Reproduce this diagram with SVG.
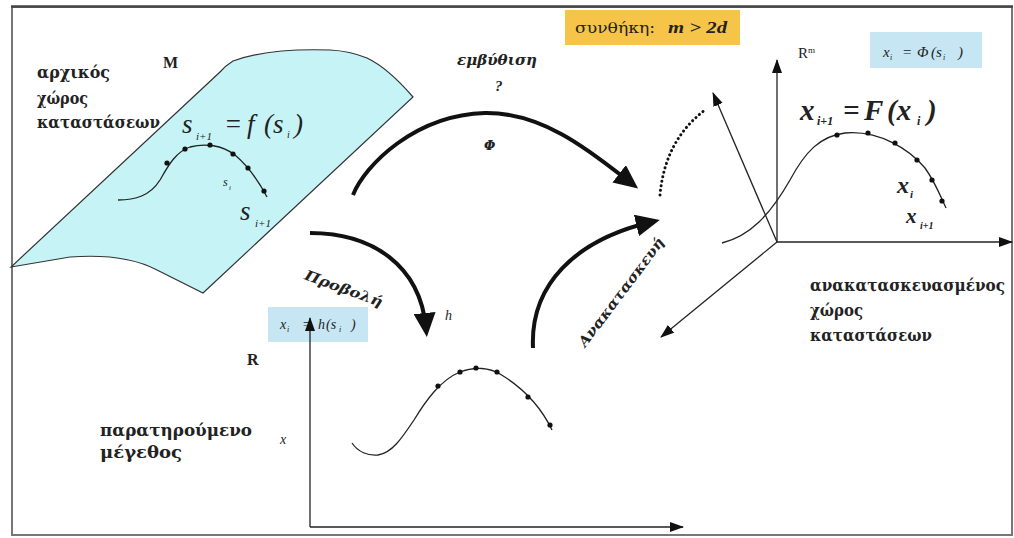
<svg xmlns="http://www.w3.org/2000/svg" width="1014" height="538" viewBox="0 0 1014 538">
<style>
.lbl{font-family:"DejaVu Serif","Liberation Serif",serif;font-weight:bold;font-size:16px;fill:#222}
.bi{font-family:"Liberation Serif","DejaVu Serif",serif;font-weight:bold;font-style:italic;fill:#222}
.gbi{font-family:"DejaVu Serif","Liberation Serif",serif;font-weight:bold;font-style:italic;fill:#222}
.it{font-family:"Liberation Serif","DejaVu Serif",serif;font-style:italic;fill:#222}
.rg{font-family:"Liberation Serif","DejaVu Serif",serif;fill:#222}
.big{stroke:#111;stroke-width:4;fill:none}
.ax{stroke:#222;stroke-width:1.3;fill:none}
.crv{stroke:#222;stroke-width:1.3;fill:none}
.dot{fill:#111}
</style>
<defs>
<marker id="bigHead" markerUnits="userSpaceOnUse" viewBox="0 0 24 22" markerWidth="24" markerHeight="22" refX="15" refY="11" orient="auto">
<path d="M0,0 L24,11 L0,22 Z" fill="#111"/>
</marker>
<marker id="smHead" markerUnits="userSpaceOnUse" viewBox="0 0 14 10" markerWidth="14" markerHeight="10" refX="13" refY="5" orient="auto">
<path d="M0,0 L14,5 L0,10 Z" fill="#111"/>
</marker>
</defs>
<rect x="0" y="0" width="1014" height="538" fill="#fff"/>
<rect x="12" y="7" width="1000" height="528" fill="none" stroke="#777" stroke-width="2"/>
<line x1="11" y1="6.5" x2="1013" y2="6.5" stroke="#444" stroke-width="2.5"/>

<g id="original-space">
<path d="M11,267 L70,257 Q125,253 157,270 L203,293 L413,97 Q388,68 367,58 Q350,51 330,50 Q268,48 233,61 Q225,66 220,72 Z" fill="#c6f4f6" stroke="#333" stroke-width="1.2"/>
<path class="crv" d="M118,200 C135,200 150,196 160,180 C167,168 175,152 190,147 C205,143 222,145 235,155 C248,166 258,180 267,197"/>
<circle class="dot" cx="167" cy="163" r="2.6"/><circle class="dot" cx="185" cy="149" r="2.6"/><circle class="dot" cx="210" cy="145" r="2.6"/><circle class="dot" cx="233" cy="154" r="2.6"/><circle class="dot" cx="248" cy="168" r="2.6"/><circle class="dot" cx="264" cy="191" r="2.6"/>
<text class="rg" font-weight="bold" x="163" y="68" font-size="16">M</text>
<text class="lbl" x="37" y="78" textLength="73" lengthAdjust="spacingAndGlyphs">αρχικός</text>
<text class="lbl" x="37" y="104" textLength="51" lengthAdjust="spacingAndGlyphs">χώρος</text>
<text class="lbl" x="37" y="128" textLength="123" lengthAdjust="spacingAndGlyphs">καταστάσεων</text>
<text class="it" font-size="27" y="133"><tspan x="182">s</tspan><tspan x="196" y="140" font-size="11">i+1</tspan><tspan x="224" y="133">=</tspan><tspan x="247">f</tspan><tspan x="264">(s</tspan><tspan x="287" y="138" font-size="10">i</tspan><tspan x="294" y="133">)</tspan></text>
<text class="it" font-size="12" y="186"><tspan x="223">s</tspan><tspan x="229" y="190" font-size="7">i</tspan></text>
<text class="it" font-size="27" y="220"><tspan x="240">s</tspan><tspan x="255" y="227" font-size="11">i+1</tspan></text>
</g>

<g id="condition">
<rect x="565" y="10" width="175" height="35" fill="#f7c44a"/>
<text class="rg" y="33"><tspan x="575" font-family="DejaVu Serif" font-size="14" textLength="80" lengthAdjust="spacingAndGlyphs">συνθήκη:</tspan></text>
<text class="bi" x="668" y="33" font-size="16" textLength="59" lengthAdjust="spacingAndGlyphs">m &gt; 2d</text>
</g>

<g id="reconstructed-space">
<rect x="870" y="32" width="112" height="36" fill="#c6e6f4"/>
<text class="it" font-size="15" y="57"><tspan x="883">x</tspan><tspan x="890" y="60" font-size="8">i</tspan><tspan x="902" y="57">=</tspan><tspan x="917">Φ</tspan><tspan x="931">(s</tspan><tspan x="943" y="60" font-size="8">i</tspan><tspan x="958" y="57">)</tspan></text>
<text class="rg" font-size="15" x="798" y="58">R<tspan font-size="9" dy="-5">m</tspan></text>
<line class="ax" x1="777" y1="242" x2="777" y2="60" marker-end="url(#smHead)"/>
<line class="ax" x1="777" y1="242" x2="1012" y2="242" marker-end="url(#smHead)"/>
<line class="ax" x1="777" y1="242" x2="713" y2="93" marker-end="url(#smHead)"/>
<line class="ax" x1="777" y1="242" x2="661" y2="337" marker-end="url(#smHead)"/>
<path class="crv" d="M722,243 C750,236 770,215 790,180 C805,152 820,136 845,133 C880,130 910,150 925,168 C935,182 940,195 946,208"/>
<circle class="dot" cx="837" cy="135" r="2.6"/><circle class="dot" cx="868" cy="133" r="2.6"/><circle class="dot" cx="895" cy="143" r="2.6"/><circle class="dot" cx="917" cy="160" r="2.6"/><circle class="dot" cx="932" cy="180" r="2.6"/><circle class="dot" cx="942" cy="201" r="2.6"/>
<text class="bi" font-size="29" y="120"><tspan x="800">x</tspan><tspan x="817" y="125" font-size="12">i+1</tspan><tspan x="843" y="120">=</tspan><tspan x="864">F</tspan><tspan x="887">(x</tspan><tspan x="917" y="125" font-size="12">i</tspan><tspan x="927" y="120">)</tspan></text>
<text class="bi" font-size="24" y="193"><tspan x="897">x</tspan><tspan x="910" y="198" font-size="11">i</tspan></text>
<text class="bi" font-size="21" y="223"><tspan x="906">x</tspan><tspan x="920" y="229" font-size="10">i+1</tspan></text>
<text class="lbl" x="810" y="291" textLength="195" lengthAdjust="spacingAndGlyphs">ανακατασκευασμένος</text>
<text class="lbl" x="810" y="316" textLength="53" lengthAdjust="spacingAndGlyphs">χώρος</text>
<text class="lbl" x="810" y="341" textLength="122" lengthAdjust="spacingAndGlyphs">καταστάσεων</text>
</g>

<g id="observed">
<rect x="268" y="307" width="100" height="35" fill="#c6e6f4"/>
<text class="it" font-size="14" y="329"><tspan x="280">x</tspan><tspan x="287" y="332" font-size="8">i</tspan><tspan x="302" y="329">=</tspan><tspan x="318">h</tspan><tspan x="326">(s</tspan><tspan x="339" y="332" font-size="8">i</tspan><tspan x="351" y="329">)</tspan></text>
<line class="ax" x1="310" y1="527" x2="310" y2="318" marker-end="url(#smHead)"/>
<line class="ax" x1="310" y1="527" x2="683" y2="527" marker-end="url(#smHead)"/>
<text class="rg" font-weight="bold" x="247" y="365" font-size="16">R</text>
<text class="it" x="280" y="444" font-size="14">x</text>
<text class="lbl" x="100" y="436" textLength="152" lengthAdjust="spacingAndGlyphs">παρατηρούμενο</text>
<text class="lbl" x="100" y="458" textLength="82" lengthAdjust="spacingAndGlyphs">μέγεθος</text>
<path class="crv" d="M352,443 C358,452 368,456 378,455 C392,453 402,438 414,420 C425,402 440,380 460,372 C475,366 490,368 500,374 C520,386 540,405 552,430"/>
<circle class="dot" cx="438" cy="386" r="2.6"/><circle class="dot" cx="460" cy="372" r="2.6"/><circle class="dot" cx="476" cy="368" r="2.6"/><circle class="dot" cx="497" cy="372" r="2.6"/><circle class="dot" cx="528" cy="397" r="2.6"/><circle class="dot" cx="550" cy="425" r="2.6"/>
</g>

<g id="connectors">
<path class="big" d="M353,195 C365,165 415,115 485,113 C545,112 595,155 631,183" marker-end="url(#bigHead)"/>
<path class="big" d="M310,233 C372,233 420,265 426,328" marker-end="url(#bigHead)"/>
<path class="big" d="M533,348 C530,285 575,240 651,222" marker-end="url(#bigHead)"/>
<path d="M660,195 Q665,140 705,110" fill="none" stroke="#111" stroke-width="3" stroke-linecap="round" stroke-dasharray="0.1 4.5"/>
<text class="gbi" x="457" y="65" font-size="14" textLength="80" lengthAdjust="spacingAndGlyphs">εμβύθιση</text>
<text class="bi" x="495" y="91" font-size="15">?</text>
<text class="gbi" x="484" y="150" font-size="13">Φ</text>
<text class="it" x="445" y="320" font-size="14">h</text>
<text class="gbi" font-size="14" text-anchor="middle" x="342" y="293" textLength="82" lengthAdjust="spacingAndGlyphs" transform="rotate(20 342 293)">Προβολή</text>
<text class="gbi" font-size="14" text-anchor="middle" x="625" y="295" textLength="132" lengthAdjust="spacingAndGlyphs" transform="rotate(-53 625 295)">Ανακατασκευή</text>
</g>
</svg>
